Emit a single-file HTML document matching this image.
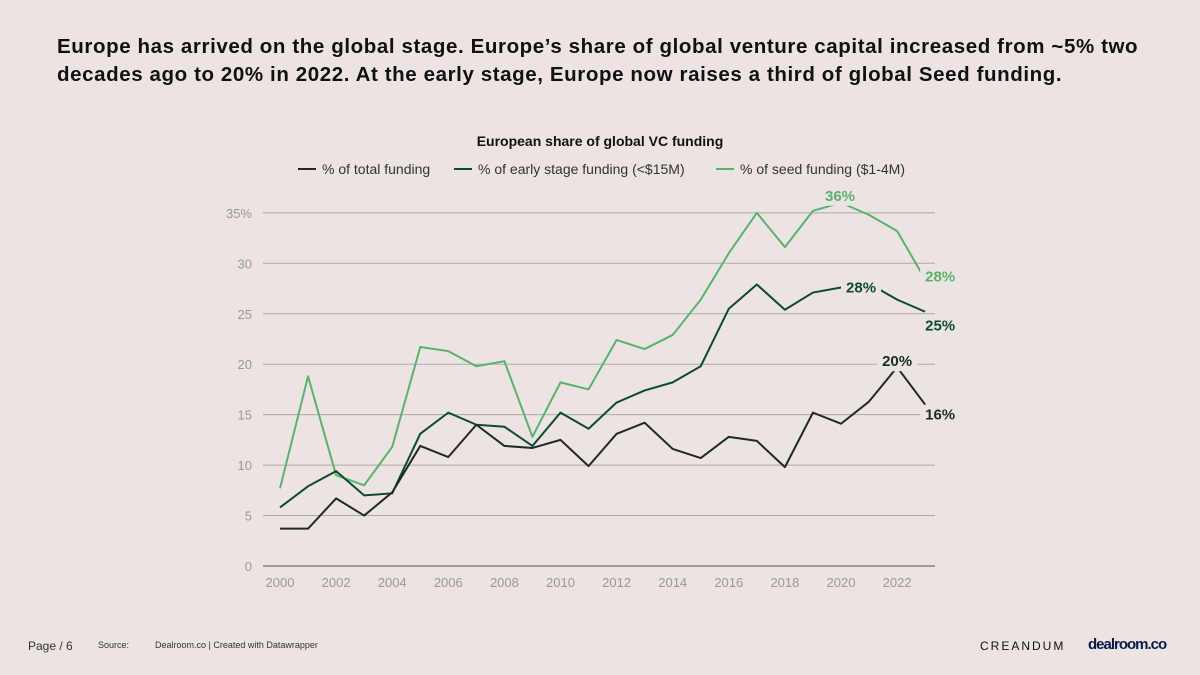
<!DOCTYPE html>
<html><head><meta charset="utf-8"><style>
body{margin:0;width:1200px;height:675px;background:#ebe4e2;font-family:"Liberation Sans",sans-serif;overflow:hidden;position:relative}
.t{position:absolute;left:57px;top:33px;font-size:20.5px;font-weight:bold;color:#111;line-height:28px;width:1100px;letter-spacing:0.6px}
.f{position:absolute;top:640px;font-size:10px;color:#333}
</style></head><body>
<div class="t">Europe has arrived on the global stage. Europe’s share of global venture capital increased from ~5% two decades ago to 20% in 2022. At the early stage, Europe now raises a third of global Seed funding.</div>
<svg width="1200" height="675" style="position:absolute;left:0;top:0" id="c">
<text x="600" y="146" text-anchor="middle" font-size="14" font-weight="bold" fill="#111">European share of global VC funding</text>
<g font-size="14" fill="#333">
<line x1="298" y1="169" x2="316" y2="169" stroke="#1e2b24" stroke-width="2"/><text x="322" y="174">% of total funding</text>
<line x1="454" y1="169" x2="472" y2="169" stroke="#0f4a2c" stroke-width="2"/><text x="478" y="174">% of early stage funding (&lt;$15M)</text>
<line x1="716" y1="169" x2="734" y2="169" stroke="#5ab26e" stroke-width="2"/><text x="740" y="174">% of seed funding ($1-4M)</text>
</g>
<g id="grid"></g><g id="lines"></g><g id="labels"></g>
</svg>
<div class="f" style="left:28px;font-size:12px;top:639px">Page / 6</div>
<div class="f" style="left:98px;font-size:9px">Source:</div>
<div class="f" style="left:155px;font-size:9px">Dealroom.co | Created with Datawrapper</div>
<div class="f" style="left:980px;font-size:12px;letter-spacing:2px;top:639px;color:#111">CREANDUM</div>
<div class="f" style="left:1088px;font-size:15px;font-weight:bold;top:636px;color:#0b1a4a;letter-spacing:-1px">dealroom.co</div>
<script>
const years=[2000,2001,2002,2003,2004,2005,2006,2007,2008,2009,2010,2011,2012,2013,2014,2015,2016,2017,2018,2019,2020,2021,2022,2023];
const totalShare=[3.7,3.7,6.7,5.0,7.3,11.9,10.8,14.0,11.9,11.7,12.5,9.9,13.1,14.2,11.6,10.7,12.8,12.4,9.8,15.2,14.1,16.3,19.7,16.0];
const earlyShare=[5.8,7.9,9.4,7.0,7.2,13.1,15.2,14.0,13.8,11.9,15.2,13.6,16.2,17.4,18.2,19.8,25.5,27.9,25.4,27.1,27.6,28.0,26.4,25.2];
const seedShare=[7.7,18.8,9.0,8.0,11.8,21.7,21.3,19.8,20.3,12.8,18.2,17.5,22.4,21.5,22.9,26.4,31.0,35.0,31.6,35.2,36.0,34.8,33.2,28.4];
const yTicks=[0,5,10,15,20,25,30,35];
const yTickLabels=["0","5","10","15","20","25","30","35%"];
const xTicks=[2000,2002,2004,2006,2008,2010,2012,2014,2016,2018,2020,2022];
const NS="http://www.w3.org/2000/svg";
const x=v=>280+(v-2000)*28.05, y=v=>566-v*10.09;
function mk(t,a,p){const e=document.createElementNS(NS,t);for(const k in a)e.setAttribute(k,a[k]);p.appendChild(e);return e;}
const g=document.getElementById('grid');
yTicks.forEach((t,i)=>{
 const l=mk('line',{x1:263,x2:935,y1:y(t),y2:y(t),stroke:t==0?'#555':'#aaa','stroke-width':1},g);
 
 
 const tx=mk('text',{x:252,y:y(t)+5,'text-anchor':'end','font-size':13,fill:'#999'},g);tx.textContent=yTickLabels[i];
 
 
});
xTicks.forEach(t=>{
 const tx=mk('text',{x:x(t),y:587,'text-anchor':'middle','font-size':13,fill:'#999'},g);tx.textContent=t;
 
 
});
const L=document.getElementById('lines'),Lb=document.getElementById('labels');
function series(d,col,name){
 const p=mk('polyline',{points:d.map((v,i)=>x(years[i])+','+y(v)).join(' '),fill:'none',stroke:col,'stroke-width':2,'stroke-linejoin':'round'},L);
 
 
}
series(seedShare,'#5ab26e','seed-line');series(earlyShare,'#0f4a2c','early-stage-line');series(totalShare,'#1e2b24','total-line');
function lab(yr,v,col,dx,dy,name){
 const cx=x(yr)+dx, cy=y(v)+dy;
 mk('rect',{x:cx-20,y:cy-14,width:40,height:19,fill:'#ebe4e2'},Lb);
 const t=mk('text',{x:cx,y:cy,'text-anchor':'middle','font-size':15,'font-weight':'bold',fill:col},Lb);t.textContent=Math.round(v)+'%';
 
 
}
lab(2020,seedShare[20],'#5ab26e',-1,-2,'seed-peak-label');
lab(2023,seedShare[23],'#5ab26e',15,2,'seed-end-label');
lab(2021,earlyShare[21],'#0f4a2c',-8,9,'early-peak-label');
lab(2023,earlyShare[23],'#0f4a2c',15,19,'early-end-label');
lab(2022,totalShare[22],'#1e2b24',0,-1,'total-peak-label');
lab(2023,totalShare[23],'#1e2b24',15,15,'total-end-label');
</script>
</body></html>
